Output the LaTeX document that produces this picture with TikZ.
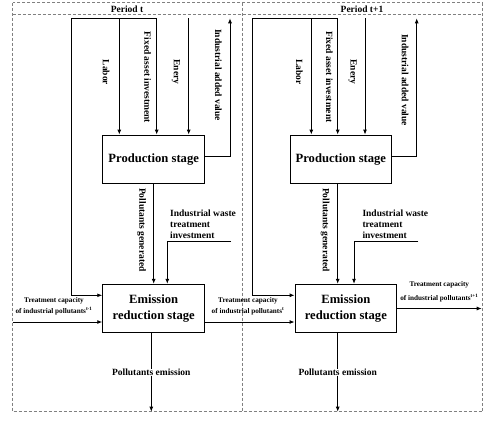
\documentclass[tikz,border=0pt]{standalone}
\usepackage{fontspec}
\setmainfont{Liberation Serif}
\usetikzlibrary{arrows.meta}
\usetikzlibrary{positioning}

\begin{document}
\begin{tikzpicture}[
                x = 1pt, y = -1pt,
                stage/.style = {draw, line width = 0.9pt, inner sep = 0mm, align = center, font = \fontsize{12.6}{15.3}\selectfont\bfseries},
                lbl/.style = {inner sep = 0.5pt, font = \fontsize{9.5}{11}\selectfont\bfseries},
                vlbl/.style = {lbl, rotate = -90},
                small/.style = {inner sep = 0.5pt, align = center, font = \fontsize{7.2}{11}\selectfont\bfseries},
                frame/.style = {draw, gray, densely dashed, line width = 0.5pt},
                arr/.style = {draw, line width = 0.9pt, -{Latex[length = 5pt, width = 4pt]}},
                ln/.style = {draw, line width = 0.9pt},
            ]
            \useasboundingbox (0,0) rectangle (500,432);

            % periods
            \path[frame] (12.7,2.7) rectangle (242.5,411.7);
            \path[frame] (242.5,2.7) rectangle (482.3,411.7);
            \path[frame] (12.7,14.7) -- (482.3,14.7);
            \node (per1) [lbl] at (127,9) {Period t};
            \node (per2) [lbl] at (362,9) {Period t+1};

            % period t
            \node (prod1) [stage, minimum width = 102pt, minimum height = 48.3pt] at (153.7,159.2) {Production stage};
            \node (emis1) [stage, minimum width = 102pt, minimum height = 48.4pt] at (153.7,308.5) {Emission\\reduction stage};

            \coordinate (top1) at (71.3,18.3);
            \coordinate (lab1) at (119.3,18.3);
            \coordinate (fix1) at (156.7,18.3);
            \coordinate (ene1) at (188.7,18.3);
            \coordinate (iav1) at (230,18.3);
            \coordinate (waste1) at (231,241.7);
            \coordinate (in1) at (12.7,322);
            \coordinate (pe1) at (151.3,411.7);

            \path[ln] (fix1) -- (top1);
            \path[arr] (top1) |- ([yshift = 13.2pt]emis1.west);
            \path[arr] (lab1) -- (lab1 |- prod1.north);
            \path[arr] (fix1) -- (fix1 |- prod1.north);
            \path[arr] (ene1) -- (ene1 |- prod1.north);
            \path[arr] ([yshift = 2.5pt]prod1.east) -| (iav1);
            \path[arr] (prod1.south) -- (emis1.north);
            \path[arr] (waste1) -| ([xshift = 13.6pt]emis1.north);
            \path[arr] (in1) -- ([yshift = -13.5pt]emis1.west);
            \path[arr] (pe1 |- emis1.south) -- node (pem1) [lbl, fill = white] {Pollutants emission} (pe1);

            \node (labt1) [vlbl] at (106,72.5) {Labor};
            \node (fixt1) [vlbl] at (147.7,77.5) {Fixed asset investment};
            \node (enet1) [vlbl] at (176,72) {Enery};
            \node (iavt1) [vlbl] at (218.3,75) {Industrial added value};
            \node (pgt1) [vlbl] at (141.7,230) {Pollutants generated};
            \node (wastet1) [lbl, align = left, anchor = west] at (169.5,224.3) {Industrial waste\\treatment\\investment};
            \node (tcin1) [small] at (54,306.5) {Treatment capacity\\of industrial pollutants\textsuperscript{t-1}};

            % period t+1
            \node (prod2) [stage, minimum width = 101.7pt, minimum height = 48.3pt] at (340.85,159.2) {Production stage};
            \node (emis2) [stage, minimum width = 101.7pt, minimum height = 48.4pt] at (345.85,308.5) {Emission\\reduction stage};

            \coordinate (top2) at (252.7,18.3);
            \coordinate (lab2) at (311.3,18.3);
            \coordinate (fix2) at (337.7,18.3);
            \coordinate (ene2) at (365,18.3);
            \coordinate (iav2) at (416.7,18.3);
            \coordinate (waste2) at (418.3,241.7);
            \coordinate (out2) at (481.7,308.5);
            \coordinate (pe2) at (337.7,411.7);

            \path[ln] (fix2) -- (top2);
            \path[arr] (top2) |- ([yshift = 13.2pt]emis2.west);
            \path[arr] (lab2) -- (lab2 |- prod2.north);
            \path[arr] (fix2) -- (fix2 |- prod2.north);
            \path[arr] (ene2) -- (ene2 |- prod2.north);
            \path[arr] ([yshift = 2.5pt]prod2.east) -| (iav2);
            \path[arr] (fix2 |- prod2.south) -- (fix2 |- emis2.north);
            \path[arr] (waste2) -| ([xshift = 8.15pt]emis2.north);
            \path[arr] ([yshift = -13.5pt]emis1.east) -- ([yshift = -13.5pt]emis2.west);
            \path[arr] (emis2.east) -- (out2);
            \path[arr] (pe2 |- emis2.south) -- node (pem2) [lbl, fill = white] {Pollutants emission} (pe2);

            \node (labt2) [vlbl] at (299.3,72) {Labor};
            \node (fixt2) [vlbl] at (329.3,77) {Fixed asset investment};
            \node (enet2) [vlbl] at (352.7,72) {Enery};
            \node (iavt2) [vlbl] at (405,80) {Industrial added value};
            \node (pgt2) [vlbl] at (325,230) {Pollutants generated};
            \node (wastet2) [lbl, align = left, anchor = west] at (361.8,224.3) {Industrial waste\\treatment\\investment};
            \node (tc1) [small] at (248,306.5) {Treatment capacity\\of industrial pollutants\textsuperscript{t}};
            \node (tc2) [small] at (439.3,292) {Treatment capacity\\[3.3pt]of industrial pollutants\textsuperscript{t+1}};
        \end{tikzpicture}
\end{document}
